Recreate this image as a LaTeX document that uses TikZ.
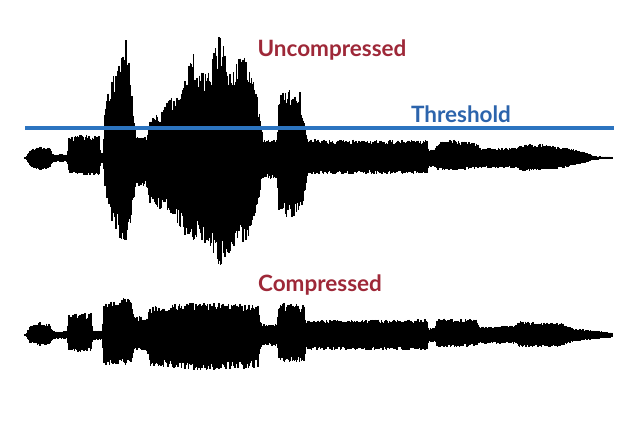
\documentclass[tikz,border=0pt]{standalone}
\usepackage{fontspec}
\setmainfont{Lato}
\definecolor{labelred}{RGB}{158,40,56}
\definecolor{threshblue}{RGB}{44,100,172}
\definecolor{linebl}{RGB}{44,116,192}

% #1 centre line, #2 envelope points x/top/bottom (pixels)
\newcommand{\drawwave}[2]{%
  \foreach \x/\t/\b [remember=\x as \px (initially 25),
      remember=\t as \pt (initially 0), remember=\b as \pb (initially 0)] in {#2} {
    \pgfmathsetmacro{\nx}{\px+0.7}
    \foreach \s in {\px,\nx,...,\x} {
      \pgfmathsetmacro{\f}{(\s-\px)/(\x-\px)}
      \pgfmathsetmacro{\up}{(\pt+(\t-\pt)*\f)*(0.72+0.28*rnd)+0.7}
      \pgfmathsetmacro{\dn}{(\pb+(\b-\pb)*\f)*(0.72+0.28*rnd)+0.7}
      \draw[wave] (\s,#1-\up) -- (\s,#1+\dn);
    }
  }
}

\begin{document}
\begin{tikzpicture}[x=0.025cm,y=-0.025cm,
    wave/.style={black,line width=1pt},
    lbl/.style={font=\fontsize{16}{18}\selectfont\bfseries,inner sep=0pt}]
  \useasboundingbox[fill=white] (0,0) rectangle (640,427);
  \pgfmathsetseed{4242}

  % uncompressed
  \drawwave{158}{26/0/0,30/8/8,40/11/12,50/9/10,53/3/3,67/3/3,69/20/15,85/23/17,99/21/16,
    101/5/5,103/5/5,105/55/30,112/80/62,120/95/80,126/120/85,130/85/70,134/40/40,136/22/28,
    147/20/30,150/40/45,160/45/50,170/60/55,180/60/70,193/105/92,200/85/80,210/90/90,
    220/125/109,230/85/95,243/105/85,252/85/75,260/45/35,263/18/20,277/18/20,279/65/55,
    290/68/60,300/65/55,306/25/30,308/18/16,427/17/15,429/8/8,435/8/8,437/15/11,455/18/12,
    478/14/10,481/9/9,518/10/10,521/13/12,545/13/12,565/10/9,585/5/4,595/1/1,612/0.5/0.5}

  % compressed
  \drawwave{335}{26/0/0,30/8/7,40/12/10,50/10/9,53/3/3,67/3/3,69/20/16,80/22/17,91/21/16,
    93/4/4,102/4/4,104/32/29,120/34/30,126/38/30,132/32/28,134/18/15,147/18/15,150/28/30,
    200/32/35,258/30/33,261/10/10,277/10/10,279/32/28,304/30/27,306/14/14,427/15/15,
    429/6/6,435/6/6,437/16/12,476/15/11,479/8/8,516/9/8,519/13/12,560/12/11,573/6/6,
    600/3/3,613/1.5/1.5}

  \coordinate (thl) at (25,128);
  \coordinate (thr) at (614,128);
  \draw[linebl,line width=2.3pt] (thl) -- (thr);

  \node[lbl,text=labelred] (uncomp) at (332,50) {Uncompressed};
  \node[lbl,text=threshblue] (thresh) at (461,114) {Threshold};
  \node[lbl,text=labelred] (comp) at (320,285) {Compressed};
\end{tikzpicture}
\end{document}
